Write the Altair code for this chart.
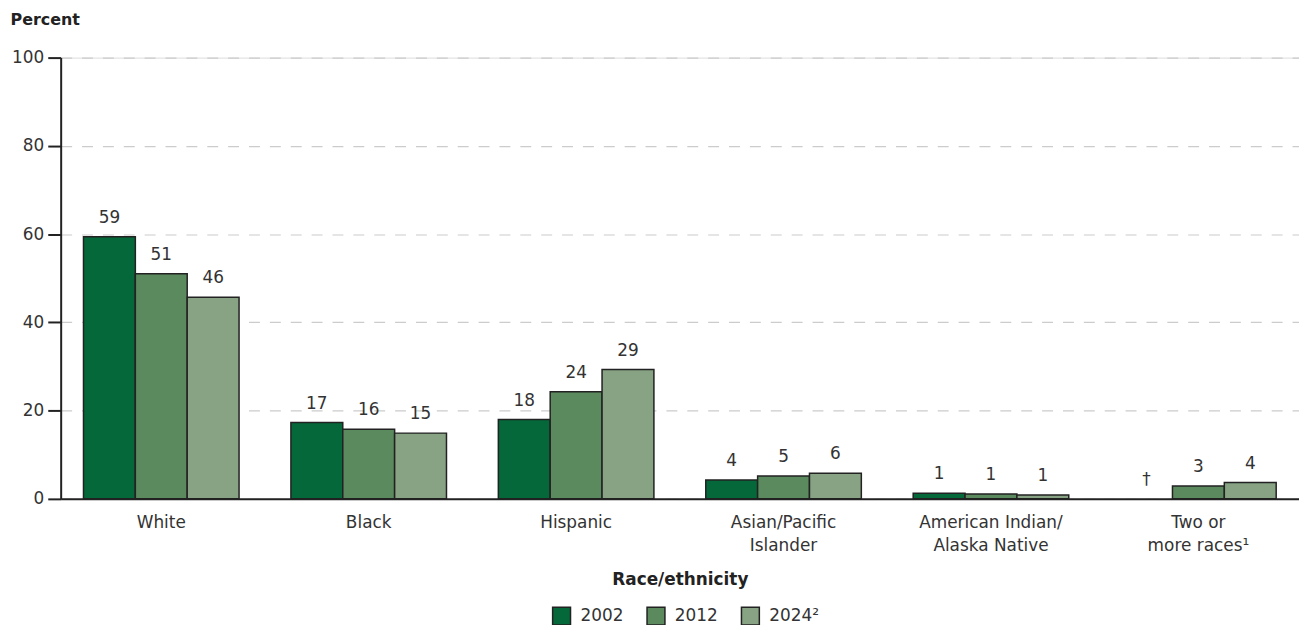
import altair as alt
import pandas as pd

categories = ["White", "Black", "Hispanic", "Asian/Pacific|Islander",
              "American Indian/|Alaska Native", "Two or|more races¹"]
years = ["2002", "2012", "2024²"]
v2002 = [59.4, 17.3, 18.0, 4.3, 1.3, None]
v2012 = [51.0, 15.8, 24.3, 5.2, 1.1, 2.9]
v2024 = [45.7, 14.9, 29.3, 5.8, 0.9, 3.7]
t2002 = ["59", "17", "18", "4", "1", "†"]
t2012 = ["51", "16", "24", "5", "1", "3"]
t2024 = ["46", "15", "29", "6", "1", "4"]
colors = ["#05683a", "#5b8a5f", "#87a383"]
y_ticks = [0, 20, 40, 60, 80, 100]

rows = []
for yr, vals, txts in zip(years, [v2002, v2012, v2024], [t2002, t2012, t2024]):
    for c, v, t in zip(categories, vals, txts):
        rows.append({"cat": c, "year": yr, "value": v, "txt": t,
                     "ly": v if v is not None else 0})
df = pd.DataFrame(rows)

FONT = "DejaVu Sans"
TXT = "#333333"
FS = 17

x_enc = alt.X("cat:N", sort=categories,
              scale=alt.Scale(paddingInner=0.25, paddingOuter=0.11),
              axis=alt.Axis(labelExpr="split(datum.label, '|')", labelAngle=0,
                            labelFontSize=FS, labelColor=TXT, labelPadding=16,
                            labelLineHeight=23, ticks=False, domainColor="#222222",
                            domainWidth=2, title="Race/ethnicity", titleFontSize=17,
                            titleFontWeight="bold", titleColor="#222222",
                            titlePadding=18, zindex=1))
xo_enc = alt.XOffset("year:N", sort=years, scale=alt.Scale(paddingInner=0, paddingOuter=0))

bars = alt.Chart(df).mark_bar(stroke="#222222", strokeWidth=1.5).encode(
    x=x_enc,
    xOffset=xo_enc,
    y=alt.Y("value:Q", scale=alt.Scale(domain=[0, 100]),
            axis=alt.Axis(values=y_ticks, grid=True, gridDash=[11, 10],
                          gridColor="#cccccc", gridWidth=1.2, domainColor="#222222",
                          domainWidth=2, tickColor="#222222", tickWidth=2, tickSize=13,
                          labelPadding=4, labelFontSize=FS, labelColor=TXT,
                          title="Percent", titleAngle=0, titleAlign="left",
                          titleBaseline="alphabetic", titleX=-51, titleY=-33,
                          titleFontSize=16, titleFontWeight="bold", titleColor="#222222")),
    color=alt.Color("year:N", scale=alt.Scale(domain=years, range=colors),
                    legend=alt.Legend(orient="none", legendX=494, legendY=552,
                                      direction="horizontal", title=None,
                                      symbolType="square", symbolSize=324,
                                      symbolStrokeColor="#222222", symbolStrokeWidth=1.5,
                                      symbolOpacity=1, labelFontSize=FS, labelColor=TXT,
                                      labelOffset=9, columnPadding=20)),
)

labels = alt.Chart(df).mark_text(baseline="bottom", dy=-10, fontSize=FS,
                                  color=TXT, font=FONT).encode(
    x=alt.X("cat:N", sort=categories),
    xOffset=alt.XOffset("year:N", sort=years),
    y=alt.Y("ly:Q"),
    text="txt:N",
)

chart = alt.layer(bars, labels).properties(
    width=1246, height=444,
    autosize=alt.AutoSizeParams(type="none"),
    padding={"left": 53, "top": 48, "right": 0, "bottom": 125},
).configure_view(stroke=None).configure(font=FONT)

chart.save("out.html", embed_options={"renderer": "svg", "actions": False})
